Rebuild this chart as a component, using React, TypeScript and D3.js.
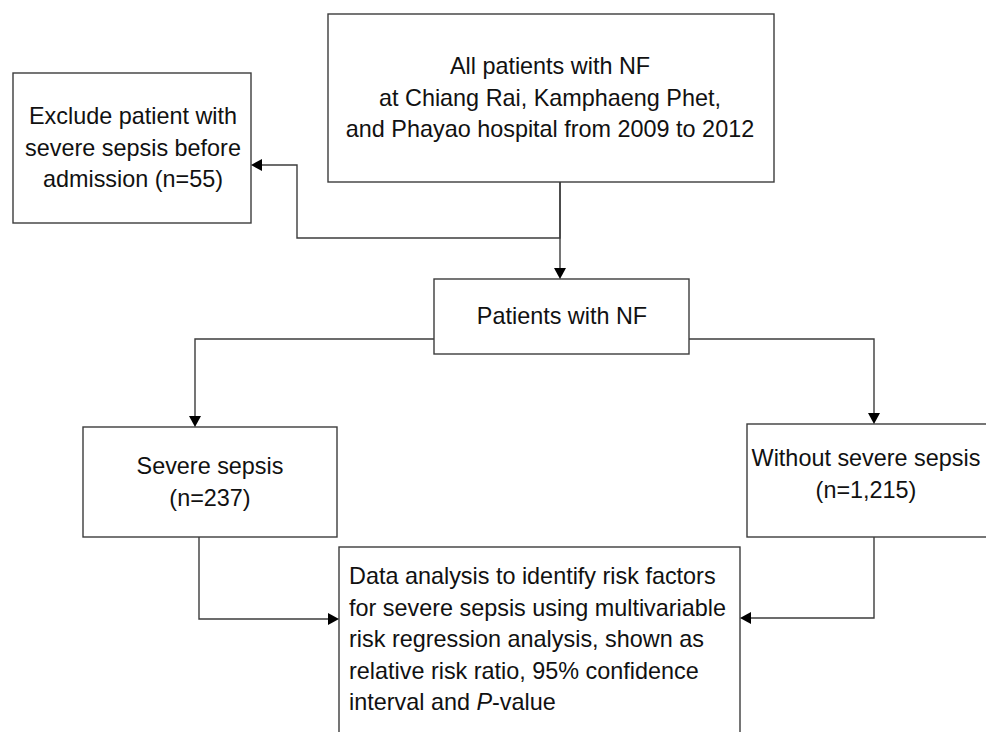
import React, { useRef, useEffect } from 'react';
import * as d3 from 'd3';

// Node texts (one entry per line)
const topLines = ['All patients with NF', 'at Chiang Rai, Kamphaeng Phet,', 'and Phayao hospital from 2009 to 2012'];
const excludeLines = ['Exclude patient with', 'severe sepsis before', 'admission (n=55)'];
const patientsLines = ['Patients with NF'];
const severeLines = ['Severe sepsis', '(n=237)'];
const withoutLines = ['Without severe sepsis', '(n=1,215)'];
const analysisLines = [
  'Data analysis to identify risk factors',
  'for severe sepsis using multivariable',
  'risk regression analysis, shown as',
  'relative risk ratio, 95% confidence',
  'interval and |P|-value'
];

const W = 986;
const H = 732;

const App = () => {
  const svgRef = useRef<SVGSVGElement>(null);

  useEffect(() => {
    const svg = d3.select(svgRef.current);
    svg.selectAll('*').remove();

    const fontSize = 23.4;
    const lineH = 31.6;
    const stroke = '#3c3c3c';

    // layout of the boxes
    const boxes = [
      { id: 'top', lines: topLines, x: 328, y: 14, w: 446, h: 168, tx: 550, by: 74, anchor: 'middle' },
      { id: 'exclude', lines: excludeLines, x: 13, y: 73, w: 238, h: 150, tx: 133, by: 124, anchor: 'middle' },
      { id: 'patients', lines: patientsLines, x: 434, y: 279, w: 255, h: 75, tx: 562, by: 324, anchor: 'middle' },
      { id: 'severe', lines: severeLines, x: 83, y: 427, w: 254, h: 110, tx: 210, by: 474, anchor: 'middle' },
      { id: 'without', lines: withoutLines, x: 747, y: 424, w: 240, h: 113, tx: 866, by: 466, anchor: 'middle' },
      { id: 'analysis', lines: analysisLines, x: 339, y: 547, w: 401, h: 200, tx: 349, by: 584, anchor: 'start' }
    ];

    const g = svg.append('g');

    const node = g.selectAll('g.node')
      .data(boxes)
      .join('g')
      .attr('class', 'node');

    node.append('rect')
      .attr('x', d => d.x)
      .attr('y', d => d.y)
      .attr('width', d => d.w)
      .attr('height', d => d.h)
      .attr('fill', 'white')
      .attr('stroke', stroke)
      .attr('stroke-width', 1.4);

    node.each(function (d) {
      const text = d3.select(this).append('text')
        .attr('text-anchor', d.anchor)
        .attr('font-family', '"Liberation Sans", Arial, sans-serif')
        .attr('font-size', fontSize)
        .attr('fill', '#111');
      d.lines.forEach((line, i) => {
        const t = text.append('tspan')
          .attr('x', d.tx)
          .attr('y', d.by + i * lineH);
        // parts between | are italic
        line.split('|').forEach((part, k) => {
          if (!part) return;
          t.append('tspan')
            .attr('font-style', k % 2 === 1 ? 'italic' : 'normal')
            .text(part);
        });
      });
    });

    // connectors: polyline points, last point is the arrow tip
    const connectors = [
      [[560, 182], [560, 238], [297, 238], [297, 165], [251, 165]],
      [[560, 182], [560, 279]],
      [[434, 339], [195, 339], [195, 427]],
      [[689, 339], [874, 339], [874, 424]],
      [[199, 537], [199, 619], [339, 619]],
      [[874, 537], [874, 618], [740, 618]]
    ];

    const arrowLen = 11;
    const arrowHalf = 6;
    const line = d3.line();

    connectors.forEach(pts => {
      const n = pts.length;
      const [tx, ty] = pts[n - 1];
      const [px, py] = pts[n - 2];
      const len = Math.hypot(tx - px, ty - py);
      const ux = (tx - px) / len;
      const uy = (ty - py) / len;
      const bx = tx - ux * arrowLen;
      const by = ty - uy * arrowLen;
      const shaft = pts.slice(0, n - 1).concat([[bx, by]]);

      g.append('path')
        .attr('d', line(shaft as [number, number][]))
        .attr('fill', 'none')
        .attr('stroke', stroke)
        .attr('stroke-width', 1.4);

      g.append('path')
        .attr('d', `M${tx},${ty}L${bx - uy * arrowHalf},${by + ux * arrowHalf}L${bx + uy * arrowHalf},${by - ux * arrowHalf}Z`)
        .attr('fill', '#000');
    });
  }, []);

  return (
    <svg
      ref={svgRef}
      width={W}
      height={H}
      style={{ position: 'absolute', left: 0, top: 0, background: 'white' }}
    />
  );
};

export default App;
